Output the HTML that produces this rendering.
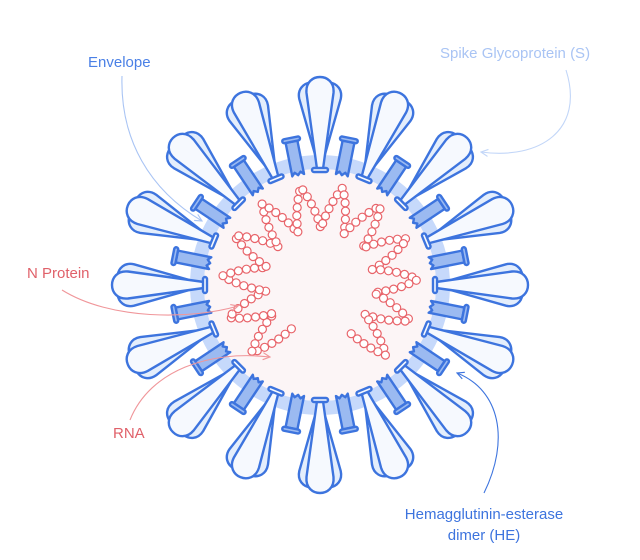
<!DOCTYPE html>
<html><head><meta charset="utf-8"><style>
html,body{margin:0;padding:0;background:#fff;}
svg{display:block}
text{font-family:"Liberation Sans",sans-serif;font-size:15px}
</style></head><body>
<svg id="s" width="640" height="560" viewBox="0 0 640 560" xmlns="http://www.w3.org/2000/svg">
<defs>
<g id="spike" stroke="#3d74de" stroke-width="2.4" stroke-linejoin="round">
  <g transform="rotate(-7 0 -124)"><path d="M-3,-124 L-13,-188 C-14,-198 -7,-203 0,-203 C7,-203 14,-198 13,-188 L3,-124 Z" fill="#e4eefc"/></g>
  <g transform="rotate(7 0 -124)"><path d="M-3,-124 L-13,-188 C-14,-198 -7,-203 0,-203 C7,-203 14,-198 13,-188 L3,-124 Z" fill="#e4eefc"/></g>
  <path d="M-3,-116 L-13.5,-192 C-14.5,-203 -7,-208 0,-208 C7,-208 14.5,-203 13.5,-192 L3,-116 Z" fill="#f6f9fe"/>
  <rect x="-8" y="-117" width="16" height="4" rx="2" fill="#f6f9fe"/>
</g>
<g id="he" stroke="#3d74de" stroke-width="2.4" stroke-linejoin="round" fill="#9bbaf1">
  <path d="M-6,-146 L6,-146 L6,-112 L3,-115 L0,-112 L-3,-115 L-6,-112 Z"/>
  <rect x="-9" y="-150" width="18" height="4" rx="2"/>
</g>
<marker id="ab" viewBox="0 0 10 10" refX="9" refY="5" markerWidth="8" markerHeight="8" orient="auto"><path d="M1,1 L9,5 L1,9" fill="none" stroke="context-stroke" stroke-width="1.3"/></marker>
</defs>
<circle cx="320" cy="285" r="123" fill="none" stroke="#c6d9fb" stroke-width="14"/>
<circle cx="320" cy="285" r="116" fill="#fcf5f6"/>
<g id="spikes" transform="translate(320 285)">
<use href="#spike" transform="rotate(0)"/><use href="#spike" transform="rotate(22.5)"/><use href="#spike" transform="rotate(45)"/><use href="#spike" transform="rotate(67.5)"/>
<use href="#spike" transform="rotate(90)"/><use href="#spike" transform="rotate(112.5)"/><use href="#spike" transform="rotate(135)"/><use href="#spike" transform="rotate(157.5)"/>
<use href="#spike" transform="rotate(180)"/><use href="#spike" transform="rotate(202.5)"/><use href="#spike" transform="rotate(225)"/><use href="#spike" transform="rotate(247.5)"/>
<use href="#spike" transform="rotate(270)"/><use href="#spike" transform="rotate(292.5)"/><use href="#spike" transform="rotate(315)"/><use href="#spike" transform="rotate(337.5)"/>
<use href="#he" transform="rotate(11.25)"/><use href="#he" transform="rotate(33.75)"/><use href="#he" transform="rotate(56.25)"/><use href="#he" transform="rotate(78.75)"/>
<use href="#he" transform="rotate(101.25)"/><use href="#he" transform="rotate(123.75)"/><use href="#he" transform="rotate(146.25)"/><use href="#he" transform="rotate(168.75)"/>
<use href="#he" transform="rotate(191.25)"/><use href="#he" transform="rotate(213.75)"/><use href="#he" transform="rotate(236.25)"/><use href="#he" transform="rotate(258.75)"/>
<use href="#he" transform="rotate(281.25)"/><use href="#he" transform="rotate(303.75)"/><use href="#he" transform="rotate(326.25)"/><use href="#he" transform="rotate(348.75)"/>
</g>
<g id="rna" fill="#fff" stroke="#e8646a" stroke-width="1.2"></g>
<g fill="none" stroke-width="1.1">
<path d="M122,76 C120,140 150,190 202,221" stroke="#a9c4f4" marker-end="url(#ab)"/>
<path d="M566,70 C585,130 540,160 481,152" stroke="#c2d6f8" marker-end="url(#ab)"/>
<path d="M62,290 C110,320 190,320 238,306" stroke="#f0969a" marker-end="url(#ab)"/>
<path d="M130,420 C150,370 210,350 270,357" stroke="#f0969a" marker-end="url(#ab)"/>
<path d="M484,493 C510,440 500,390 457,373" stroke="#3d74de" marker-end="url(#ab)"/>
</g>
<text x="88" y="67" fill="#4a80e6">Envelope</text>
<text x="440" y="58" fill="#a9c4f4">Spike Glycoprotein (S)</text>
<text x="27" y="278" fill="#e0616a">N Protein</text>
<text x="113" y="438" fill="#e0616a">RNA</text>
<text x="484" y="519" fill="#3d74de" text-anchor="middle">Hemagglutinin-esterase</text>
<text x="484" y="540" fill="#3d74de" text-anchor="middle">dimer (HE)</text>
</svg>
<script>
(function(){
var g=document.getElementById('rna'),ns='http://www.w3.org/2000/svg';
var cx=320,cy=283,teeth=12,a0=212,a1=510;
function pt(t){var a=(a0+(a1-a0)*t)*Math.PI/180;var ph=(t*teeth)%1;var tri=ph<0.5?ph*2:2-ph*2;var r=54+44*tri;return [cx+r*Math.sin(a),cy-r*Math.cos(a)];}
var prev=pt(0),out=[prev],acc=0;
for(var i=1;i<=4000;i++){var p=pt(i/4000);var d=Math.hypot(p[0]-prev[0],p[1]-prev[1]);acc+=d;prev=p;if(acc>=8){out.push(p);acc=0;}}
out.forEach(function(p){var c=document.createElementNS(ns,'circle');c.setAttribute('cx',p[0].toFixed(1));c.setAttribute('cy',p[1].toFixed(1));c.setAttribute('r','4');g.appendChild(c);});
})();
</script>
</body></html>
